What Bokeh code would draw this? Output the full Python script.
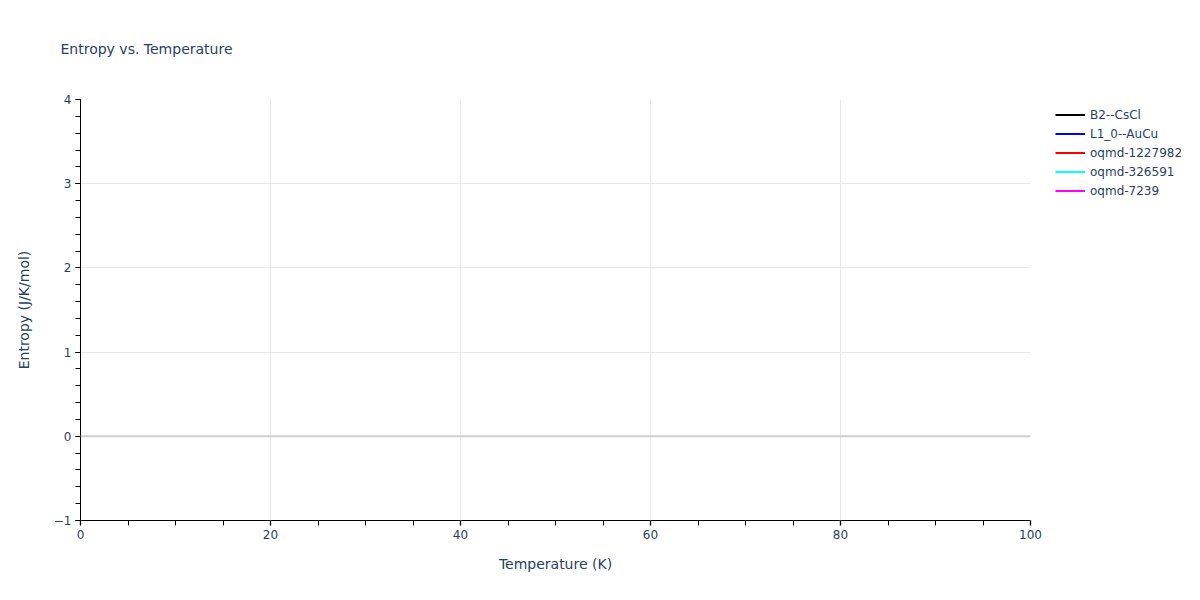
from bokeh.plotting import figure
from bokeh.models import Legend, LegendItem, SingleIntervalTicker, Range1d, Span
from bokeh.layouts import row
from bokeh.embed import file_html
from bokeh.resources import INLINE

nan = float("nan")

# Series: the reference shows the legend but no visible values in range
series_names = ["B2--CsCl", "L1_0--AuCu", "oqmd-1227982", "oqmd-326591", "oqmd-7239"]
series_colors = ["black", "blue", "red", "cyan", "magenta"]
temperature = {name: [0] for name in series_names}
entropy = {name: [nan] for name in series_names}

x_range = (0, 100)
y_range = (-1, 4)

FONT = "DejaVu Sans"
TXT = "#2a3f5f"

p = figure(width=1045, height=584, output_backend="svg", toolbar_location=None,
           x_range=Range1d(*x_range), y_range=Range1d(*y_range),
           min_border_left=80, min_border_right=15, min_border_top=99, min_border_bottom=64)
p.outline_line_color = None
p.background_fill_color = "white"

p.title.text = "Entropy vs. Temperature"
p.title.text_font = FONT
p.title.text_font_size = "14px"
p.title.text_font_style = "normal"
p.title.text_color = TXT
p.title.offset = -20
p.title.vertical_align = "top"
p.title.standoff = 81

for name, color in zip(series_names, series_colors):
    p.line(temperature[name], entropy[name], line_color=color, line_width=2)

for ax in (p.xaxis[0], p.yaxis[0]):
    ax.axis_line_color = "black"
    ax.axis_line_width = 1
    ax.major_label_text_font = FONT
    ax.major_label_text_font_size = "12px"
    ax.major_label_text_color = TXT
    ax.axis_label_text_font = FONT
    ax.axis_label_text_font_size = "14px"
    ax.axis_label_text_font_style = "normal"
    ax.axis_label_text_color = TXT
    ax.major_tick_in = 0
    ax.major_tick_out = 5
    ax.minor_tick_in = 0
    ax.minor_tick_out = 5
    ax.minor_tick_line_color = "black"

p.xaxis.ticker = SingleIntervalTicker(interval=20, num_minor_ticks=4)
p.yaxis.ticker = SingleIntervalTicker(interval=1, num_minor_ticks=5)
p.xaxis.major_tick_line_color = "#aaaaaa"
p.xaxis.major_tick_line_width = 2
p.yaxis.major_tick_line_color = "black"
p.xaxis.axis_label = "Temperature (K)"
p.yaxis.axis_label = "Entropy (J/K/mol)"
p.xaxis.axis_label_standoff = 14
p.yaxis.axis_label_standoff = 19
p.xaxis.major_label_standoff = 4
p.yaxis.major_label_standoff = 4

p.xgrid.grid_line_color = "#e8e8e8"
p.ygrid.grid_line_color = "#e8e8e8"
p.xgrid.grid_line_width = 1
p.ygrid.grid_line_width = 1
p.add_layout(Span(location=0, dimension="width", line_color="#d0d0d0", line_width=2))

# Legend panel (same series, drawn in a narrow side figure)
pl = figure(width=139, height=584, output_backend="svg", toolbar_location=None,
            x_range=Range1d(*x_range), y_range=Range1d(*y_range), min_border=0,
            title=None, x_axis_location=None, y_axis_location=None)
pl.grid.visible = False
pl.outline_line_color = None
items = []
for name, color in zip(series_names, series_colors):
    r = pl.line(temperature[name], entropy[name], line_color=color, line_width=2)
    items.append(LegendItem(label=name, renderers=[r]))

legend = Legend(items=items, location=(10, 320))
legend.border_line_color = None
legend.background_fill_alpha = 0
legend.label_text_font = FONT
legend.label_text_font_size = "12px"
legend.label_text_color = TXT
legend.glyph_width = 30
legend.glyph_height = 19
legend.label_height = 19
legend.spacing = 0
legend.padding = 0
legend.margin = 0
legend.label_standoff = 5
pl.add_layout(legend, "center")

open("out.html", "w").write(file_html(row(p, pl), INLINE))
